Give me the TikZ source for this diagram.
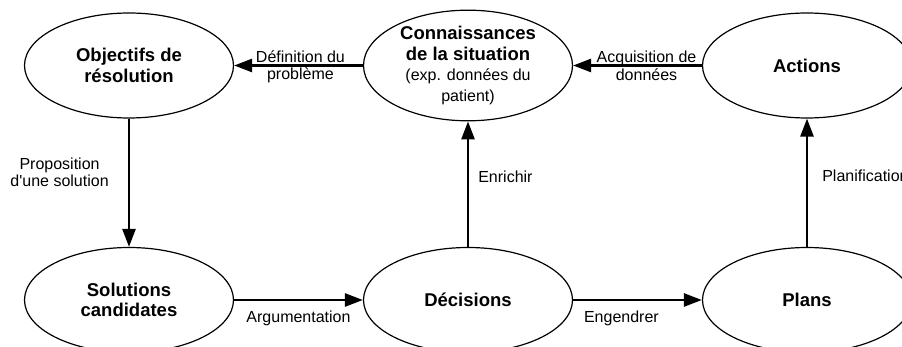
\documentclass[tikz,border=0pt]{standalone}
\usepackage{fontspec}
\setmainfont{Liberation Sans}
\newfontfamily\plainf{Liberation Sans}
\usetikzlibrary{arrows.meta,shapes.geometric}
\newcommand\bigb{\fontsize{18.5}{20.5}\selectfont\bfseries}
\tikzset{
  stage/.style={draw, line width=1.2pt, ellipse, inner sep=0pt,
    minimum width=209pt, minimum height=105pt, align=center,
    font=\fontsize{18.5}{20.5}\selectfont\bfseries},
  flow/.style={line width=2.6pt, -{Triangle[length=18pt,width=13pt]}},
  lbl/.style={font=\fontsize{16}{16.5}\selectfont, align=center, inner sep=0pt},
  duo/.style={font=\fontsize{16}{17.5}\selectfont}
}
\begin{document}
\begin{tikzpicture}[x=1pt,y=-1pt]
\useasboundingbox (0,0) rectangle (902,347);
\clip (0,0) rectangle (902,347);
\node[stage] (obj) at (129,65.5) {Objectifs de\\résolution};
\node[stage, font=\fontsize{16}{20.5}\selectfont] (con) at (468,65.5)
  {{\bigb Connaissances}\\{\bigb de la situation}\\(exp. données du\\patient)};
\node[stage] (act) at (807,65.5) {Actions};
\node[stage] (sol) at (129,300) {Solutions\\candidates};
\node[stage] (dec) at (468,300) {Décisions};
\node[stage] (pla) at (807,300) {Plans};

\draw[flow] (con.west) -- node[lbl, duo, pos=0.485, yshift=-1.5pt] {Définition du\\problème} (obj.east);
\draw[flow] (act.west) -- node[lbl, duo, pos=0.43, yshift=-0.5pt] {Acquisition de\\données} (con.east);
\draw[flow] (obj.south) -- node[lbl, pos=0.42, left=19pt] {Proposition\\{\plainf d'une solution}} (sol.north);
\draw[flow] (dec.north) -- node[lbl, pos=0.558, right=9pt] {Enrichir} (con.south);
\draw[flow] (pla.north) -- node[lbl, pos=0.558, right=14pt] {Planification} (act.south);
\draw[flow] (sol.east) -- node[lbl, midway, below=9.5pt] {Argumentation} (dec.west);
\draw[flow] (dec.east) -- node[lbl, pos=0.375, below=9.5pt] {Engendrer} (pla.west);
\end{tikzpicture}
\end{document}
